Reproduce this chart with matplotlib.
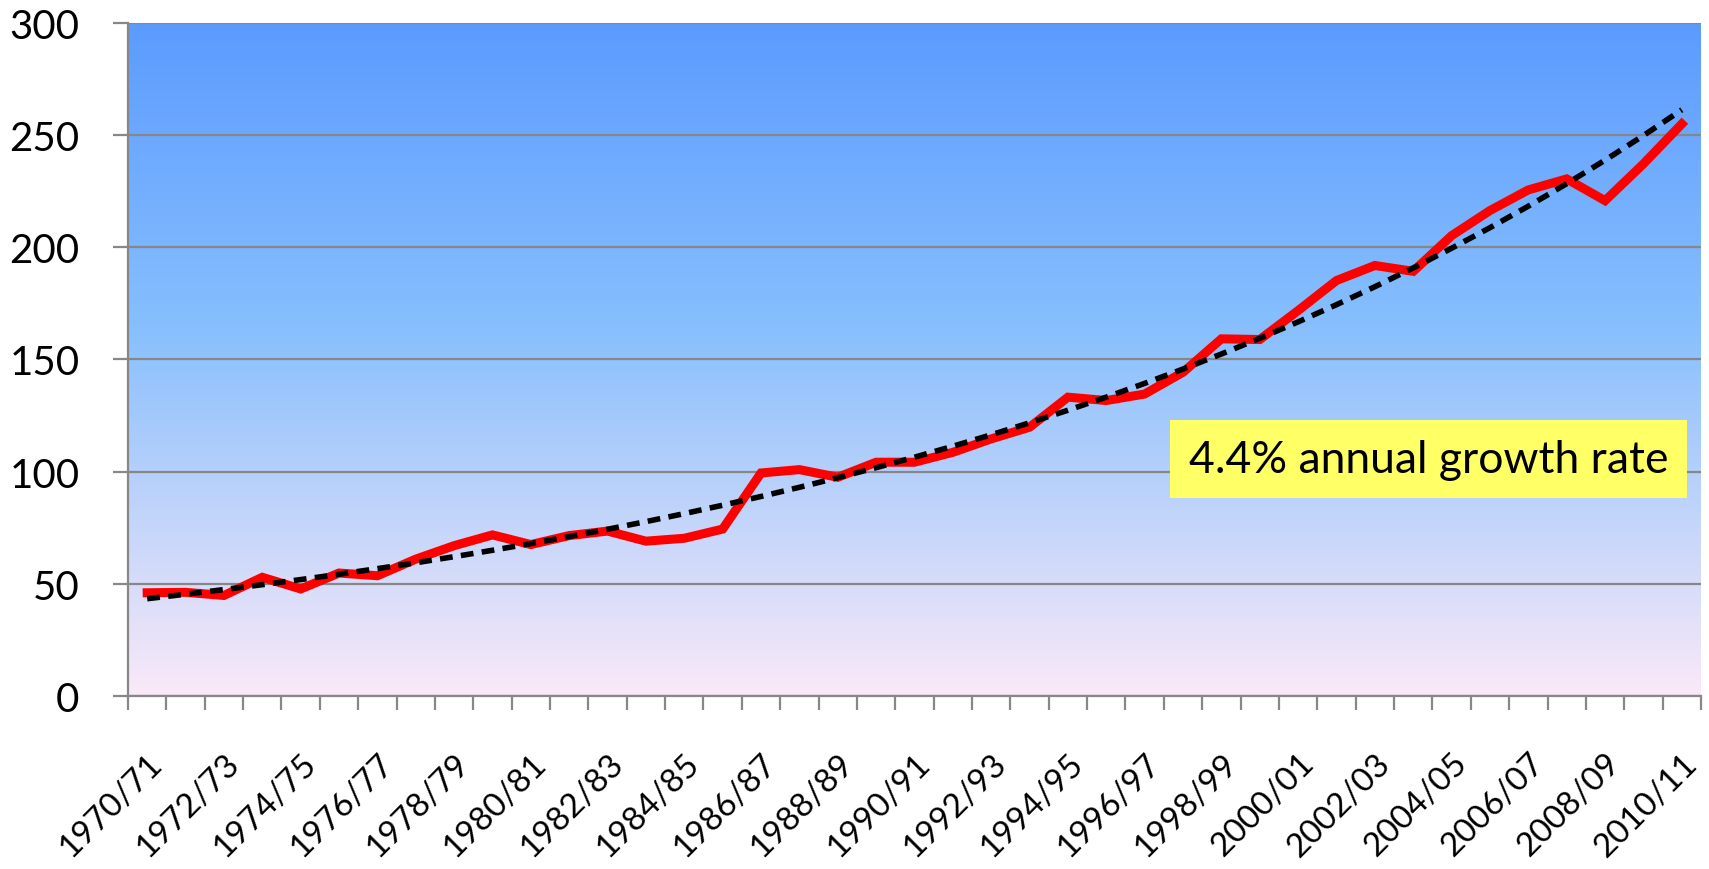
import numpy as np
import matplotlib
matplotlib.use("Agg")
import matplotlib.pyplot as plt
from matplotlib.colors import LinearSegmentedColormap

plt.rcParams["font.family"] = ["Lato", "DejaVu Sans"]

# ── DATA ─────────────────────────────────────────────────────────────────────
seasons = ["1970/71", "1971/72", "1972/73", "1973/74", "1974/75", "1975/76",
           "1976/77", "1977/78", "1978/79", "1979/80", "1980/81", "1981/82",
           "1982/83", "1983/84", "1984/85", "1985/86", "1986/87", "1987/88",
           "1988/89", "1989/90", "1990/91", "1991/92", "1992/93", "1993/94",
           "1994/95", "1995/96", "1996/97", "1997/98", "1998/99", "1999/00",
           "2000/01", "2001/02", "2002/03", "2003/04", "2004/05", "2005/06",
           "2006/07", "2007/08", "2008/09", "2009/10", "2010/11"]
values = [46, 46.2, 44.8, 52.9, 47.7, 54.8, 53.6, 61, 67, 71.8,
          67.5, 71.5, 73.5, 69, 70.3, 74.4, 99.4, 100.9, 97.5, 104.2,
          104.2, 108.6, 114.6, 119.8, 133.2, 131.7, 134.6, 144.3, 159.2, 158.9,
          171.8, 185.2, 191.9, 189.3, 205.2, 216.4, 225.6, 230.5, 220.8, 237.2,
          255]
note = "4.4% annual growth rate"

# ── COLOURS ──────────────────────────────────────────────────────────────────
RED = "#FF0000"
GRID = "#878787"
YELLOW = "#FFFF66"
bg_cmap = LinearSegmentedColormap.from_list(
    "bg", [(0.0, "#FAE9F8"), (0.55, "#87BFFD"), (1.0, "#5C9BFF")])

x = np.arange(len(values))

# exponential trend line (least squares on log values, like a spreadsheet)
k, c = np.polyfit(x, np.log(values), 1)
trend = np.exp(c + k * x)

fig = plt.figure(figsize=(17.09, 8.70), dpi=100, facecolor="white")
ax = fig.add_axes([0.0749, 0.1989, 0.9204, 0.7735])

# gradient background
grad = np.linspace(0, 1, 256).reshape(-1, 1)
ax.imshow(grad, cmap=bg_cmap, origin="lower", aspect="auto",
          extent=[-0.5, len(values) - 0.5, 0, 300], zorder=0)

ax.plot(x, values, color=RED, linewidth=6.5, solid_joinstyle="miter", zorder=3)
ax.plot(x, trend, color="black", linewidth=4, dashes=(2.3, 1.5), zorder=4)

ax.set_xlim(-0.5, len(values) - 0.5)
ax.set_ylim(0, 300)
ax.set_yticks(np.arange(0, 301, 50))
ax.grid(axis="y", color=GRID, linewidth=1.6)
ax.tick_params(axis="y", length=11, width=1.6, color=GRID, labelsize=29, pad=24)

# tick marks between categories, labels on every second season
ax.set_xticks(np.arange(-0.5, len(values)), minor=False)
ax.set_xticklabels([])
ax.set_xticks(x[::2], minor=True)
ax.set_xticklabels(seasons[::2], minor=True, rotation=45, ha="right",
                   rotation_mode="anchor", fontsize=24)
ax.tick_params(axis="x", which="major", length=10, width=1.6, color=GRID)
ax.tick_params(axis="x", which="minor", length=0, pad=37)

for s in ["top", "right"]:
    ax.spines[s].set_visible(False)
for s in ["left", "bottom"]:
    ax.spines[s].set_color(GRID)
    ax.spines[s].set_linewidth(1.6)

ax.text(0.827, 0.352, note, transform=ax.transAxes, ha="center", va="center",
        fontsize=32, color="black", zorder=5,
        bbox=dict(boxstyle="square,pad=0.42", facecolor=YELLOW, edgecolor="none"))

plt.savefig("out.png", dpi=100, facecolor="white")
